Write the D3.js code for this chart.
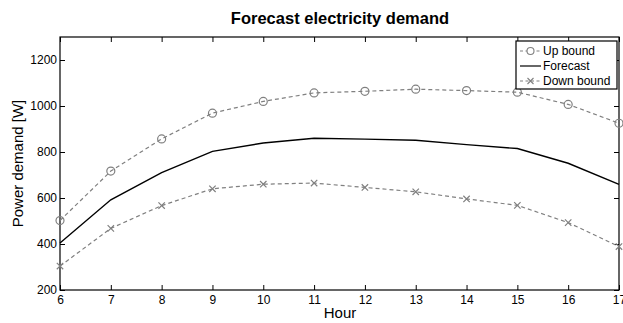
<!DOCTYPE html>
<html><head><meta charset="utf-8">
<script src="https://cdn.jsdelivr.net/npm/d3@7"></script>
<style>body{margin:0;background:#fff}svg{display:block;font-family:"Liberation Sans",Arial,sans-serif}</style>
</head><body>
<svg id="c" width="623" height="323"></svg>
<script>
const hours = [6,7,8,9,10,11,12,13,14,15,16,17];
const upBound = [502,717,857,969,1020,1057,1064,1073,1067,1060,1007,925];
const forecast = [404,592,710,803,839,860,856,851,832,815,751,659];
const downBound = [304,468,567,640,660,665,646,627,596,568,493,389];
const yTicks = [200,400,600,800,1000,1200];
const xTicks = hours;
const seriesNames = ["Up bound","Forecast","Down bound"];

const svg = d3.select("#c");
const L=60, R=619, T=37, B=290;
const x = d3.scaleLinear().domain([6,17]).range([L,R]);
const y = d3.scaleLinear().domain([200,1300]).range([B,T]);

svg.append("rect").attr("x",L).attr("y",T).attr("width",R-L).attr("height",B-T).attr("fill","#fff");

const gx = svg.append("g").attr("transform",`translate(0,${B})`)
  .call(d3.axisBottom(x).tickValues(xTicks).tickSizeInner(-5).tickSizeOuter(0).tickPadding(3).tickFormat(d3.format("d")));
const gxt = svg.append("g").attr("transform",`translate(0,${T})`)
  .call(d3.axisTop(x).tickValues(xTicks).tickSizeInner(-5).tickSizeOuter(0).tickFormat(""));
const gy = svg.append("g").attr("transform",`translate(${L},0)`)
  .call(d3.axisLeft(y).tickValues(yTicks).tickSizeInner(-5).tickSizeOuter(0).tickPadding(3).tickFormat(d3.format("d")));
const gyr = svg.append("g").attr("transform",`translate(${R},0)`)
  .call(d3.axisRight(y).tickValues(yTicks).tickSizeInner(-5).tickSizeOuter(0).tickFormat(""));
[gx,gxt,gy,gyr].forEach(g=>{
  g.select(".domain").remove();
  g.selectAll("line").attr("stroke","#000").attr("stroke-width",1);
  g.selectAll("text").attr("font-size",12).attr("fill","#000").attr("font-family","Liberation Sans, Arial, sans-serif");
});
gx.selectAll("text").attr("dy","0.9em");
svg.append("rect").attr("x",L).attr("y",T).attr("width",R-L).attr("height",B-T)
  .attr("fill","none").attr("stroke","#000").attr("stroke-width",1.2);

const line = d3.line().x((d,i)=>x(hours[i])).y(d=>y(d));
const gray = "#808080";
const plot = svg.append("g");
plot.append("path").datum(upBound).attr("d",line).attr("fill","none").attr("stroke",gray).attr("stroke-width",1.2).attr("stroke-dasharray","4,3");
plot.append("path").datum(downBound).attr("d",line).attr("fill","none").attr("stroke",gray).attr("stroke-width",1.2).attr("stroke-dasharray","4,3");
plot.append("path").datum(forecast).attr("d",line).attr("fill","none").attr("stroke","#000").attr("stroke-width",1.4);

plot.selectAll("circle.up").data(upBound).join("circle").attr("class","up")
  .attr("cx",(d,i)=>x(hours[i])).attr("cy",d=>y(d)).attr("r",4)
  .attr("fill","none").attr("stroke",gray).attr("stroke-width",1.2);
const xs = 3.2;
plot.selectAll("path.dn").data(downBound).join("path").attr("class","dn")
  .attr("d",(d,i)=>{const cx=x(hours[i]),cy=y(d);return `M${cx-xs},${cy-xs}L${cx+xs},${cy+xs}M${cx-xs},${cy+xs}L${cx+xs},${cy-xs}`;})
  .attr("stroke",gray).attr("stroke-width",1.2).attr("fill","none");

// Legend
const lg = svg.append("g");
lg.append("rect").attr("x",516).attr("y",41).attr("width",101).attr("height",48)
  .attr("fill","#fff").attr("stroke","#000").attr("stroke-width",1.2);
seriesNames.forEach((n,i)=>{
  const cy = 51 + i*15;
  const ln = lg.append("line").attr("x1",520).attr("x2",541).attr("y1",cy).attr("y2",cy)
    .attr("stroke", i===1?"#000":gray).attr("stroke-width",1.2);
  if(i!==1) ln.attr("stroke-dasharray","3,2.5");
  if(i===0) lg.append("circle").attr("cx",530.5).attr("cy",cy).attr("r",3.5).attr("fill","#fff").attr("stroke",gray).attr("stroke-width",1.1);
  if(i===2) lg.append("path").attr("d",`M${527.5},${cy-3}L${533.5},${cy+3}M${527.5},${cy+3}L${533.5},${cy-3}`).attr("stroke",gray).attr("stroke-width",1.1);
  lg.append("text").attr("x",543).attr("y",cy).attr("dy","0.35em").attr("font-size",12).text(n);
});

svg.append("text").attr("x",340).attr("y",24).attr("text-anchor","middle")
  .attr("font-size",16.5).attr("font-weight","bold").text("Forecast electricity demand");
svg.append("text").attr("x",340).attr("y",318).attr("text-anchor","middle")
  .attr("font-size",15).text("Hour");
svg.append("text").attr("transform",`translate(23,${(T+B)/2}) rotate(-90)`).attr("text-anchor","middle")
  .attr("font-size",15).text("Power demand [W]");
</script>
</body></html>
